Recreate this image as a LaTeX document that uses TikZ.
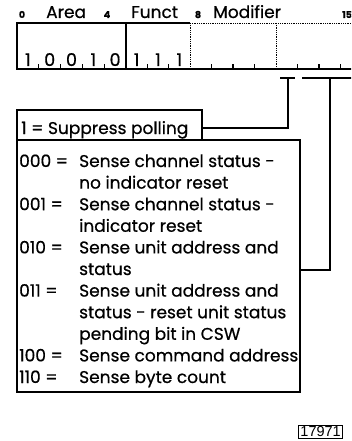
\documentclass[tikz,border=0pt]{standalone}
\usepackage{fontspec}
\setmainfont{Poppins}[FakeBold=0.6]
\newfontfamily\idfont{Liberation Sans}
\begin{document}
\begin{tikzpicture}[x=1pt,y=-1pt,
  txt/.style={anchor=base west, inner sep=0pt, font=\fontsize{17}{20}\selectfont},
  bitnum/.style={anchor=base, inner sep=0pt, font=\fontsize{9.5}{10}\selectfont\bfseries},
  bit/.style={anchor=base, inner sep=0pt, font=\fontsize{17.5}{20}\selectfont},
  reg/.style={line width=1.2pt},
  dotreg/.style={line width=0.8pt, densely dotted},
  tick/.style={line width=1.2pt},
  box/.style={draw, line width=1.2pt, inner sep=0pt},
  conn/.style={line width=1.5pt}]
\useasboundingbox (0,0) rectangle (351,441);
\clip (0,0) rectangle (351,441);
% field labels
\node[bitnum] (n0) at (22,18) {0};
\node[txt] (area) at (46,18) {Area};
\node[bitnum] (n4) at (107,18) {4};
\node[txt] (funct) at (131,18) {Funct};
\node[bitnum] (n8) at (198,18) {8};
\node[txt] (modif) at (213,18) {Modifier};
\node[bitnum, anchor=base west] (n15) at (342,18) {15};
% register frame
\draw[reg] (17,69) -- (17,23) -- (190,23);
\draw[dotreg] (190,23) -- (362,23);
\draw[reg] (126,23) -- (126,69);
\draw[dotreg] (190,23) -- (190,69);
\draw[dotreg] (276,23) -- (276,69);
\draw[line width=2pt] (16.4,69) -- (362,69);
% ticks
\foreach \x in {38.8,60.6,82.4,104.2,147.3,168.7,211.5,233,254.5,297.5,319,340.5}
  \draw[tick] (\x,69) -- (\x,64);
% bit values
\foreach \b [count=\i] in {1,0,0,1,0}
  \node[bit] (a\i) at ({17+21.8*\i-10.9},66) {\b};
\foreach \b [count=\i] in {1,1,1}
  \node[bit] (f\i) at ({126+21.33*\i-10.67},66) {\b};
% boxes
\node[box, minimum width=185pt, minimum height=30pt] (sup) at (109.5,125) {};
\node[txt] (suptext) at (21,134) {1 = Suppress polling};
\node[box, minimum width=283pt, minimum height=252pt] (big) at (158.5,266) {};
% connectors
\coordinate (t1) at (288,78);
\coordinate (t2) at (330,78);
\draw[conn] (280,78) -- (295,78);
\draw[conn] (302,78) -- (362,78);
\draw[conn] (sup.east |- 0,128) -| (t1);
\draw[conn] (big.east |- 0,270) -| (t2);
% code list
\foreach \c/\d [count=\k from 0] in {000 =/Sense channel status -,/no indicator reset,001 =/Sense channel status -,/indicator reset,010 =/Sense unit address and,/status,011 =/Sense unit address and,/status - reset unit status,/pending bit in CSW,100 =/Sense command address,110 =/Sense byte count}{
  \node[txt] (c\k) at (19,{167+21.6*\k}) {\c};
  \node[txt] (d\k) at (79,{167+21.6*\k}) {\d};
}
% figure id
\node[draw, line width=0.9pt, inner xsep=2pt, inner ysep=1.5pt, font=\idfont\fontsize{14.5}{15}\selectfont, anchor=north west] (id) at (298,424.5) {17971};
\end{tikzpicture}
\end{document}
